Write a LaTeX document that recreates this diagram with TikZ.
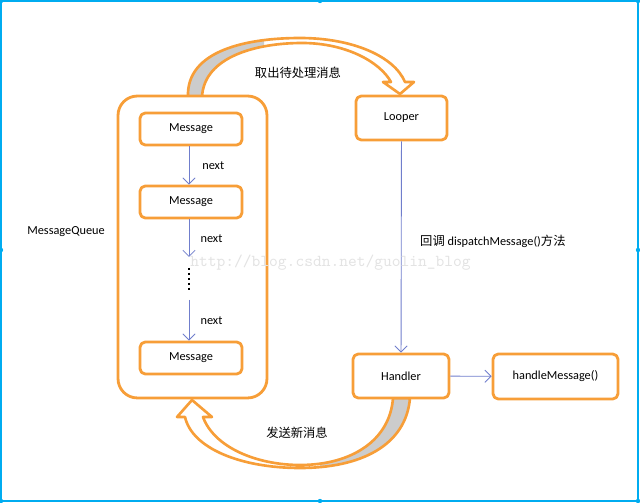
\documentclass[tikz,border=0pt]{standalone}
\usepackage{fontspec}
\setmainfont{Carlito}
\newfontfamily\cjk{Noto Sans CJK SC}
\usetikzlibrary{arrows.meta}
\definecolor{qorange}{RGB}{247,158,56}
\definecolor{qblue}{RGB}{112,126,204}
\definecolor{qframe}{RGB}{0,172,240}
\begin{document}
\begin{tikzpicture}[x=0.02cm, y=-0.02cm, font=\fontsize{7}{8}\selectfont, line join=round, >={Straight Barb[length=3.5pt,width=7pt]},
	box/.style={draw=qorange, line width=1.6pt, rounded corners=3pt, fill=white, minimum width=2.04cm, minimum height=0.64cm},
	link/.style={draw=qblue, line width=0.5pt, ->},
	band/.style={draw=qorange, line width=1.5pt}]
	\useasboundingbox (0,0) rectangle (640,503);
	% frame with handles
	\draw[qframe, line width=0.7pt] (1,1) rectangle (638,501);
	\foreach \p in {(1,1),(320,1),(638,1),(1,250),(638,250),(1,501),(320,501),(638,501)}
		\fill[qframe] \p circle (2.2);
	% curved arrows
	\def\toppath{(188,97) .. controls (186,50) and (248,38) .. (300,38) .. controls (352,38) and (394,56) .. (405,82) -- (414,82) -- (400,94) -- (383,82) -- (391,82) .. controls (380,62) and (346,43) .. (302,43) .. controls (258,43) and (204,56) .. (202,97) -- cycle}
	\def\botpath{(410,398) .. controls (406,446) and (360,468) .. (300,468) .. controls (240,468) and (192,448) .. (185,417) -- (177,417) -- (192,400) -- (212,417) -- (203,417) .. controls (214,447) and (256,465) .. (300,465) .. controls (352,465) and (390,440) .. (393,398) -- cycle}
	\fill[white] \toppath;
	\fill[white] \botpath;
	\begin{scope}
		\clip (150,30) rectangle (264,100);
		\fill[gray!40] \toppath;
	\end{scope}
	\begin{scope}
		\clip (320,390) rectangle (420,480);
		\fill[gray!40] \botpath;
	\end{scope}
	\draw[band] \toppath;
	\draw[band] \botpath;
	\node (take) at (298,73) {\cjk 取出待处理消息};
	\node (send) at (297,433) {\cjk 发送新消息};
	% message queue
	\node[box, rounded corners=11pt, minimum width=2.98cm, minimum height=6.04cm] (mq) at (192.5,247) {};
	\node (mqlabel) at (66,232) {MessageQueue};
	\node[box] (msg1) at (191,129) {Message};
	\node[box] (msg2) at (191,202) {Message};
	\node[box] (msg3) at (191,358) {Message};
	\coordinate (d0) at (189,257);
	\coordinate (d1) at (189,268);
	\coordinate (d2) at (189,291);
	\coordinate (d3) at (189,300);
	\draw[link] (msg1.south -| d0) -- (msg2.north -| d0) node[midway, right=4pt, text=black] {next};
	\draw[link] (msg2.south -| d0) -- (d0) node[midway, right=3pt, text=black] {next};
	\draw[line width=1.3pt, dash pattern=on 1.3pt off 1.5pt] (d1) -- (d2);
	\draw[link] (d3) -- (msg3.north -| d3) node[midway, right=3pt, text=black] {next};
	% looper and handler
	\node[box, minimum width=1.82cm, minimum height=0.88cm] (looper) at (401.5,118) {Looper};
	\node[box, minimum width=1.92cm, minimum height=0.88cm] (handler) at (401,376) {Handler};
	\node[box, minimum width=2.5cm, minimum height=0.9cm] (hm) at (555.5,376.5) {handleMessage()};
	\draw[link] (looper) -- (handler);
	\node[anchor=west] (cb) at (414,241) {{\cjk 回调} dispatchMessage(){\cjk 方法}};
	\draw[link] (handler) -- (hm);
	% watermark
	\node[anchor=west, inner sep=0pt, text=gray!22, font=\ttfamily\fontsize{9.5}{10}\selectfont] (wm) at (190,263) {http://blog.csdn.net/guolin\_blog};
\end{tikzpicture}
\end{document}
